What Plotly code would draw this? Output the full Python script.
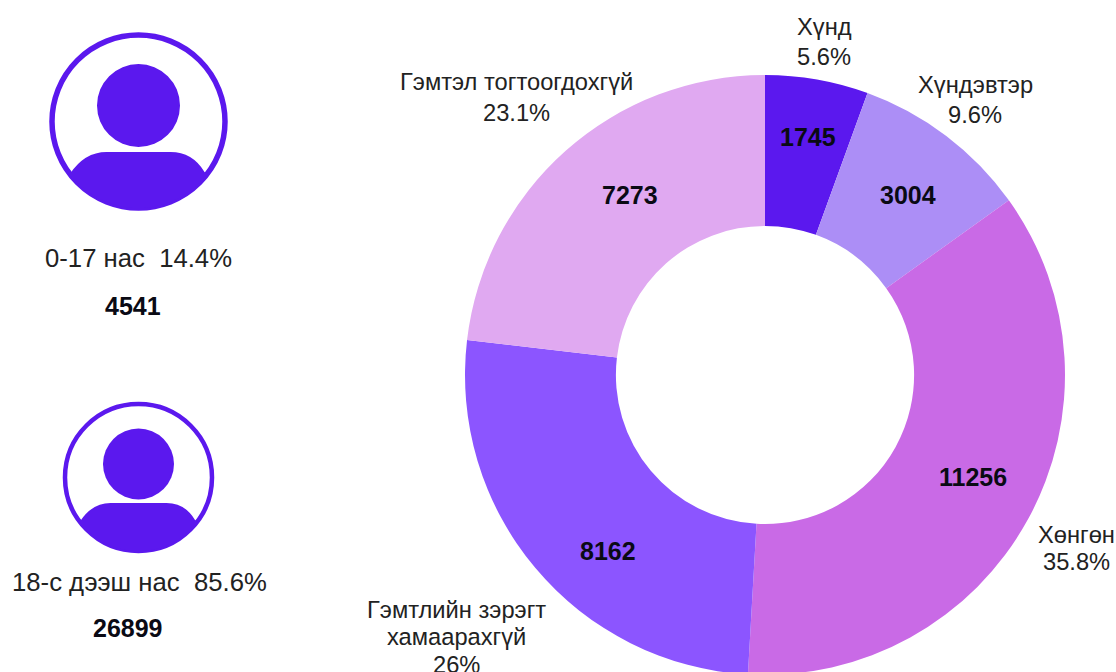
import numpy as np
import plotly.graph_objects as go

severity = [["Хүнд"], ["Хүндэвтэр"], ["Хөнгөн"], ["Гэмтлийн зэрэгт", "хамаарахгүй"], ["Гэмтэл тогтоогдохгүй"]]
counts = [1745, 3004, 11256, 8162, 7273]
shares = ["5.6%", "9.6%", "35.8%", "26%", "23.1%"]
colors = ["#5B18EE", "#AC8EF6", "#C96AE6", "#8C55FF", "#E0A9F1"]
age_groups = ["0-17 нас  14.4%", "18-с дээш нас  85.6%"]
age_counts = [4541, 26899]

W, H = 1116, 672
CX, CY, R = 765, 375, 300
FH = 690
INK = "#5B18EE"
FONT = "Liberation Sans, Arial, sans-serif"

fig = go.Figure()
fig.add_trace(go.Pie(
    labels=[" ".join(s) for s in severity], values=counts, sort=False, direction="clockwise",
    rotation=0, hole=0.497, textinfo="none", showlegend=False,
    marker=dict(colors=colors, line=dict(width=0)),
    domain=dict(x=[(CX - R) / W, (CX + R) / W], y=[(FH - CY - R) / FH, (FH - CY + R) / FH]),
))
fig.add_trace(go.Scatter(x=[0, W], y=[0, FH], mode="markers", marker=dict(opacity=0), hoverinfo="skip", showlegend=False))


def icon(cx, cy, r, sw, hy, hr, by, flat, sx, sy):
    shapes = [
        dict(type="circle", x0=cx - r, x1=cx + r, y0=cy - r, y1=cy + r, line=dict(color=INK, width=sw), fillcolor="white"),
        dict(type="circle", x0=cx - hr, x1=cx + hr, y0=hy - hr, y1=hy + hr, line=dict(width=0), fillcolor=INK),
    ]
    a0 = np.arctan2(sy - cy, sx)
    t = np.linspace(a0, np.pi - a0, 50)
    arc = " ".join(f"L{cx + r * np.cos(v):.1f},{cy + r * np.sin(v):.1f}" for v in t)
    path = (f"M{cx + flat},{by} Q{cx + flat + (sx - flat) * 0.65},{by} {cx + sx},{sy} {arc} "
            f"Q{cx - flat - (sx - flat) * 0.65},{by} {cx - flat},{by} Z")
    shapes.append(dict(type="path", path=path, line=dict(width=0), fillcolor=INK))
    return shapes


shapes = icon(138.5, 121.5, 86.5, 5.5, 105.5, 41.5, 152, 32, 66, 172) + icon(138.5, 477.5, 73.5, 4.5, 464, 35.5, 503, 28, 56.5, 520)

ann = []


def text(x, y, s, size=23.7, bold=False):
    ann.append(dict(x=x, y=y, text=f"<b>{s}</b>" if bold else str(s), showarrow=False, xanchor="center", yanchor="middle",
                    font=dict(family=FONT, size=size, color="#0A0A14" if bold else "#222222"), align="center"))


value_pos = [(807.5, 137), (908, 195), (972.5, 477), (607.5, 551), (629.5, 195)]
for (x, y), v in zip(value_pos, counts):
    text(x, y, v, 25, True)

label_x = [824, 975, 1076.5, 456.5, 516.5]
label_y = [[27, 57], [85, 115], [535, 562], [610, 637, 665], [82, 113]]
for x, ys, n, p in zip(label_x, label_y, severity, shares):
    for y, line in zip(ys, n + [p]):
        text(x, y, line)

for x, y, s in zip((138, 139), (258, 582), age_groups):
    text(x, y, s, 25.7)
for x, y, v in zip((133, 127.5), (306, 628), age_counts):
    text(x, y, v, 25, True)

fig.update_layout(
    width=W, height=FH, margin=dict(l=0, r=0, t=0, b=0), paper_bgcolor="white", plot_bgcolor="rgba(0,0,0,0)",
    xaxis=dict(range=[0, W], visible=False, fixedrange=True),
    yaxis=dict(range=[FH, 0], visible=False, fixedrange=True),
    shapes=shapes, annotations=ann,
)
fig.write_html("out.html", config=dict(displayModeBar=False),
               post_script="document.body.style.margin='0';document.documentElement.style.overflow='hidden';document.body.style.overflow='hidden';")
